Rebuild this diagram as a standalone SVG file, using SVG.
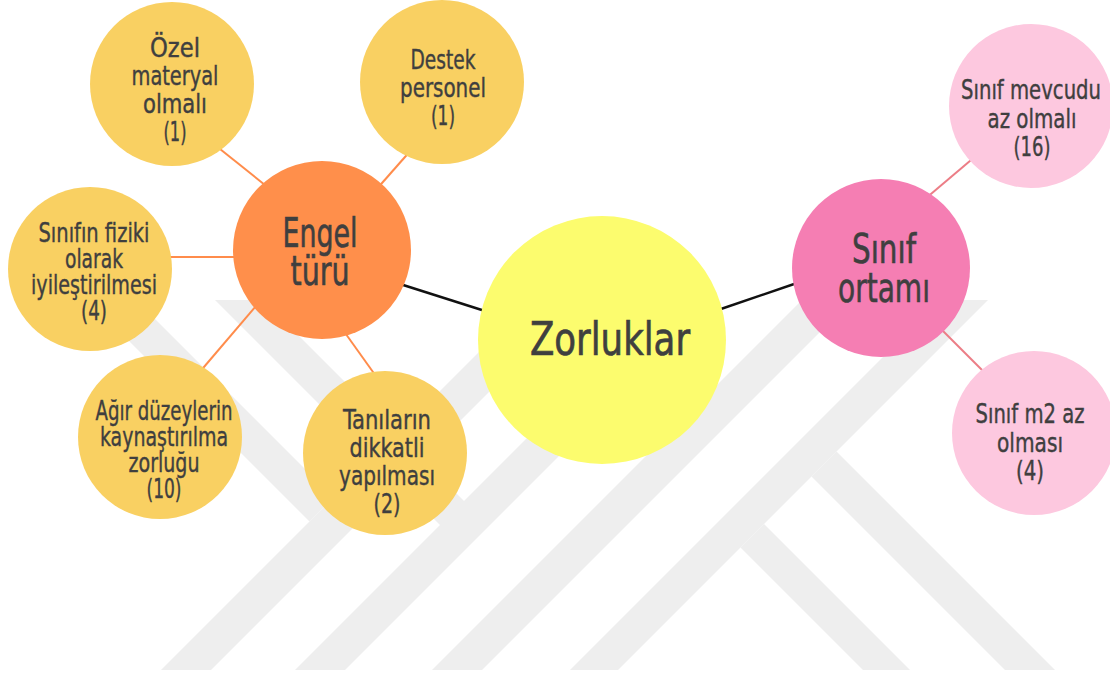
<svg xmlns="http://www.w3.org/2000/svg" width="1110" height="677" viewBox="0 0 1110 677">
  <style>
    .lbl { font-family: "DejaVu Sans Condensed", "Liberation Sans", sans-serif; fill: #3f3f3f; stroke: #3f3f3f; stroke-width: 0.4; text-anchor: middle; }
    .sm { font-size: 27px; }
    .md { font-size: 40px; stroke-width: 0.6; }
    .lg { font-size: 46px; stroke-width: 0.7; }
    .leaf { fill: #f9d062; }
    .link-dark { stroke: #111111; stroke-width: 2.5; }
    .link-orange { stroke: #ff8c4b; stroke-width: 2; }
    .link-pink { stroke: #ec7d86; stroke-width: 2; }
    .mark { fill: #eeeeee; }
  </style>
  <defs>
    <clipPath id="markClip">
      <rect x="0" y="300" width="1110" height="370"/>
    </clipPath>
  </defs>

  <rect width="1110" height="677" fill="#ffffff"/>

  <!-- background emblem: diagonal bands -->
  <g id="emblem" clip-path="url(#markClip)">
    <polygon class="mark" points="161,670 211,670 581,300 531,300"/>
    <polygon class="mark" points="295,670 345,670 715,300 665,300"/>
    <polygon class="mark" points="432,670 482,670 852,300 802,300"/>
    <polygon class="mark" points="570,670 618,670 988,300 940,300"/>
    <polygon class="mark" points="88,300 136,300 333.5,497.5 309.5,521.5"/>
    <polygon class="mark" points="215,300 263,300 465,502 441,526"/>
    <polygon class="mark" points="740.5,547.5 764,524 910,670 863,670"/>
    <polygon class="mark" points="811.5,476.5 836.5,451.5 1055,670 1005,670"/>
  </g>

  <!-- connectors -->
  <g id="connectors" fill="none">
    <line class="link-dark" x1="400" y1="284" x2="485" y2="311"/>
    <line class="link-dark" x1="718" y1="310" x2="797" y2="283"/>
    <line class="link-orange" x1="210" y1="141" x2="275" y2="193"/>
    <line class="link-orange" x1="375" y1="191" x2="412" y2="149"/>
    <line class="link-orange" x1="165" y1="257" x2="240" y2="257"/>
    <line class="link-orange" x1="198" y1="374" x2="262" y2="299"/>
    <line class="link-orange" x1="343" y1="330" x2="378" y2="379"/>
    <line class="link-pink" x1="925" y1="199" x2="977" y2="155"/>
    <line class="link-pink" x1="938" y1="326" x2="989" y2="377"/>
  </g>

  <g id="node-zorluklar">
    <circle cx="602" cy="340" r="124" fill="#fcfc6e"/>
    <text class="lbl lg" x="610" y="355" textLength="160" lengthAdjust="spacingAndGlyphs">Zorluklar</text>
  </g>

  <g id="node-engel">
    <circle cx="322" cy="250" r="89" fill="#ff8f4b"/>
    <text class="lbl md" x="320" y="247" textLength="75" lengthAdjust="spacingAndGlyphs">Engel</text>
    <text class="lbl md" x="320" y="285" textLength="59" lengthAdjust="spacingAndGlyphs">türü</text>
  </g>

  <g id="node-ozel">
    <circle class="leaf" cx="172" cy="84" r="82"/>
    <text class="lbl sm" x="175" y="57" textLength="50" lengthAdjust="spacingAndGlyphs">Özel</text>
    <text class="lbl sm" x="175" y="85" textLength="87" lengthAdjust="spacingAndGlyphs">materyal</text>
    <text class="lbl sm" x="175" y="113" textLength="64" lengthAdjust="spacingAndGlyphs">olmalı</text>
    <text class="lbl sm" x="175" y="141" textLength="23" lengthAdjust="spacingAndGlyphs">(1)</text>
  </g>

  <g id="node-destek">
    <circle class="leaf" cx="442" cy="82" r="82"/>
    <text class="lbl sm" x="443" y="69" textLength="65" lengthAdjust="spacingAndGlyphs">Destek</text>
    <text class="lbl sm" x="443" y="97" textLength="86" lengthAdjust="spacingAndGlyphs">personel</text>
    <text class="lbl sm" x="443" y="125" textLength="24" lengthAdjust="spacingAndGlyphs">(1)</text>
  </g>

  <g id="node-fiziki">
    <circle class="leaf" cx="90" cy="269" r="82"/>
    <text class="lbl sm" x="94" y="242" textLength="111" lengthAdjust="spacingAndGlyphs">Sınıfın fiziki</text>
    <text class="lbl sm" x="94" y="268" textLength="58" lengthAdjust="spacingAndGlyphs">olarak</text>
    <text class="lbl sm" x="94" y="294" textLength="126" lengthAdjust="spacingAndGlyphs">iyileştirilmesi</text>
    <text class="lbl sm" x="94" y="320" textLength="26" lengthAdjust="spacingAndGlyphs">(4)</text>
  </g>

  <g id="node-agir">
    <circle class="leaf" cx="160" cy="437" r="82"/>
    <text class="lbl sm" x="164" y="420" textLength="137" lengthAdjust="spacingAndGlyphs">Ağır düzeylerin</text>
    <text class="lbl sm" x="164" y="446" textLength="128" lengthAdjust="spacingAndGlyphs">kaynaştırılma</text>
    <text class="lbl sm" x="164" y="472" textLength="71" lengthAdjust="spacingAndGlyphs">zorluğu</text>
    <text class="lbl sm" x="164" y="498" textLength="35" lengthAdjust="spacingAndGlyphs">(10)</text>
  </g>

  <g id="node-tani">
    <circle class="leaf" cx="385" cy="453" r="82"/>
    <text class="lbl sm" x="387" y="429" textLength="88" lengthAdjust="spacingAndGlyphs">Tanıların</text>
    <text class="lbl sm" x="387" y="457" textLength="75" lengthAdjust="spacingAndGlyphs">dikkatli</text>
    <text class="lbl sm" x="387" y="485" textLength="96" lengthAdjust="spacingAndGlyphs">yapılması</text>
    <text class="lbl sm" x="387" y="513" textLength="27" lengthAdjust="spacingAndGlyphs">(2)</text>
  </g>

  <g id="node-sinif">
    <circle cx="881" cy="268" r="89" fill="#f57eb3"/>
    <text class="lbl md" x="884" y="263" textLength="64" lengthAdjust="spacingAndGlyphs">Sınıf</text>
    <text class="lbl md" x="884" y="302" textLength="92" lengthAdjust="spacingAndGlyphs">ortamı</text>
  </g>

  <g id="node-mevcut">
    <circle cx="1031" cy="106" r="82" fill="#fdc8df"/>
    <text class="lbl sm" x="1031" y="99" textLength="140" lengthAdjust="spacingAndGlyphs">Sınıf mevcudu</text>
    <text class="lbl sm" x="1032" y="128" textLength="89" lengthAdjust="spacingAndGlyphs">az olmalı</text>
    <text class="lbl sm" x="1032" y="156" textLength="37" lengthAdjust="spacingAndGlyphs">(16)</text>
  </g>

  <g id="node-m2">
    <circle cx="1034" cy="433" r="82" fill="#fdc8df"/>
    <text class="lbl sm" x="1030" y="423" textLength="109" lengthAdjust="spacingAndGlyphs">Sınıf m2 az</text>
    <text class="lbl sm" x="1030" y="452" textLength="66" lengthAdjust="spacingAndGlyphs">olması</text>
    <text class="lbl sm" x="1030" y="480" textLength="28" lengthAdjust="spacingAndGlyphs">(4)</text>
  </g>
</svg>
